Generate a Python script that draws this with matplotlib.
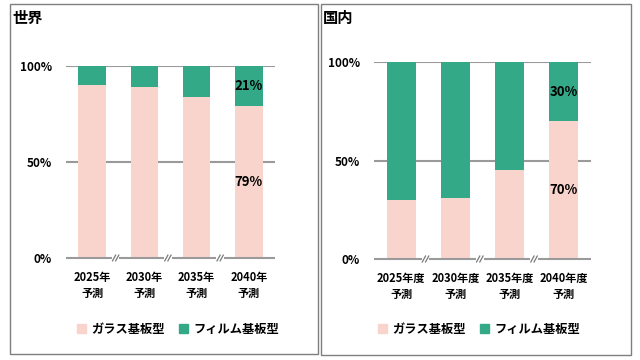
import matplotlib
matplotlib.use("Agg")
import matplotlib.pyplot as plt
from matplotlib.patches import Rectangle, Patch

plt.rcParams['font.family'] = ['Noto Sans CJK JP', 'DejaVu Sans']

world_cats = ["2025年\n予測", "2030年\n予測", "2035年\n予測", "2040年\n予測"]
dom_cats = ["2025年度\n予測", "2030年度\n予測", "2035年度\n予測", "2040年度\n予測"]
world_glass = [90, 89, 84, 79]
world_film = [10, 11, 16, 21]
dom_glass = [30, 31, 45, 70]
dom_film = [70, 69, 55, 30]
yticks = [0, 50, 100]
ytick_labels = ["0%", "50%", "100%"]
series_names = ["ガラス基板型", "フィルム基板型"]

PINK = "#F9D4CD"
GREEN = "#34A987"
GRID = "#9a9a9a"

W, H = 640, 360
fig = plt.figure(figsize=(6.4, 3.6), dpi=100)

def px(x0, y_top, x1, y_bot):
    return [x0 / W, (H - y_bot) / H, (x1 - x0) / W, (y_bot - y_top) / H]

# panel frames
for (x0, y0, x1, y1) in [(10, 4, 318, 354), (321, 4, 631, 355)]:
    fig.add_artist(Rectangle((x0 / W, (H - y1) / H), (x1 - x0) / W, (y1 - y0) / H,
                             transform=fig.transFigure, fill=False,
                             edgecolor="#7f7f7f", linewidth=1.0))

def draw_panel(rect, cats, glass, film, title, title_x, label_idx, legend_x):
    ax = fig.add_axes(rect)
    x = list(range(len(cats)))
    ax.bar(x, glass, width=0.53, color=PINK, zorder=2)
    ax.bar(x, film, width=0.53, bottom=glass, color=GREEN, zorder=2)
    ax.set_xlim(-0.5, len(cats) - 0.5)
    ax.set_ylim(0, 100)
    for s in ax.spines.values():
        s.set_visible(False)
    for yv in [50, 100]:
        ax.axhline(yv, color=GRID, lw=1.5, zorder=1)
    # baseline with breaks
    breaks = [0.45, 1.45, 2.45]
    gap = 0.07
    starts = [-0.5] + [b + gap for b in breaks]
    ends = [b - gap for b in breaks] + [len(cats) - 0.5]
    for s_, e_ in zip(starts, ends):
        ax.plot([s_, e_], [0, 0], color=GRID, lw=1.5, clip_on=False, zorder=3,
                solid_capstyle='butt')
    for b in breaks:
        for off in (-0.03, 0.03):
            ax.plot([b + off - 0.03, b + off + 0.03], [-1.5, 1.5], color="#7a7a7a",
                    lw=0.9, clip_on=False, zorder=3)
    ax.set_yticks(yticks)
    ax.set_yticklabels(ytick_labels, fontsize=8.5, fontweight='bold')
    ax.set_xticks(x)
    ax.set_xticklabels(cats, fontsize=8, fontweight='bold', linespacing=1.3)
    ax.tick_params(length=0)
    ax.tick_params(axis='y', pad=10)
    ax.tick_params(axis='x', pad=9)
    i = label_idx
    ax.text(i, glass[i] + film[i] / 2, f"{film[i]}%", ha='center', va='center',
            fontsize=9.5, fontweight='bold', zorder=4)
    ax.text(i, glass[i] / 2, f"{glass[i]}%", ha='center', va='center',
            fontsize=9.5, fontweight='bold', zorder=4)
    fig.text(title_x / W, 1 - 18 / H, title, fontsize=11, fontweight='bold',
             ha='left', va='center')
    handles = [Patch(color=PINK), Patch(color=GREEN)]
    fig.legend(handles, series_names, loc='center',
               bbox_to_anchor=(legend_x / W, 1 - 329 / H), ncol=2, frameon=False,
               handlelength=0.75, handleheight=0.75, handletextpad=0.4,
               columnspacing=1.2, prop={'weight': 'bold', 'size': 8.8})
    return ax

draw_panel(px(66, 66, 275, 258), world_cats, world_glass, world_film, "世界", 12, 3, 178)
draw_panel(px(374, 62, 591, 259), dom_cats, dom_glass, dom_film, "国内", 323, 3, 479)

fig.savefig("out.png", dpi=100)
